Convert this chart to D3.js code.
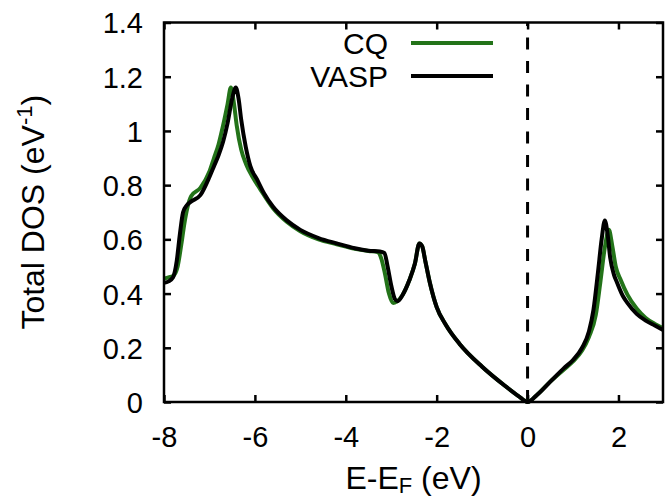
<!DOCTYPE html>
<html>
<head>
<meta charset="utf-8">
<script src="https://cdn.jsdelivr.net/npm/d3@7"></script>
<style>
    body { margin: 0; background: #fff; }
    text { font-family: "Liberation Sans", Arial, sans-serif; fill: #000; }
</style>
</head>
<body>
<svg id="chart"></svg>
<script>
// 能量轴 (E-E_F, eV) 与两条曲线的数据
const cqE = [-8.0, -7.9, -7.8, -7.7, -7.62, -7.55, -7.48, -7.4, -7.2, -7.0, -6.9, -6.8, -6.7, -6.6, -6.53, -6.46, -6.4, -6.3, -6.2, -6.05, -5.9, -5.6, -5.3, -5.0, -4.6, -4.2, -3.8, -3.5, -3.3, -3.22, -3.14, -3.05, -2.96, -2.88, -2.75, -2.6, -2.48, -2.38, -2.32, -2.25, -2.15, -2.0, -1.8, -1.5, -1.0, -0.5, -0.2, 0.0, 0.2, 0.5, 0.8, 1.0, 1.2, 1.35, 1.5, 1.6, 1.7, 1.79, 1.86, 1.94, 2.05, 2.2, 2.4, 2.6, 2.8, 2.98];
const cqDos = [0.455, 0.46, 0.465, 0.5, 0.58, 0.66, 0.72, 0.76, 0.79, 0.85, 0.9, 0.95, 1.02, 1.1, 1.16, 1.1, 1.02, 0.93, 0.88, 0.83, 0.79, 0.715, 0.665, 0.63, 0.6, 0.582, 0.565, 0.557, 0.553, 0.53, 0.475, 0.40, 0.365, 0.37, 0.395, 0.45, 0.51, 0.585, 0.575, 0.52, 0.44, 0.35, 0.285, 0.215, 0.13, 0.06, 0.022, 0.0, 0.025, 0.075, 0.12, 0.15, 0.19, 0.24, 0.32, 0.44, 0.57, 0.635, 0.58, 0.5, 0.45, 0.395, 0.345, 0.31, 0.288, 0.272];

const vaspE = [-8.0, -7.9, -7.8, -7.72, -7.65, -7.58, -7.5, -7.4, -7.2, -7.0, -6.9, -6.8, -6.7, -6.6, -6.5, -6.42, -6.36, -6.3, -6.2, -6.1, -5.95, -5.8, -5.6, -5.3, -5.0, -4.6, -4.2, -3.8, -3.5, -3.25, -3.15, -3.08, -3.0, -2.92, -2.86, -2.75, -2.6, -2.48, -2.38, -2.32, -2.25, -2.15, -2.0, -1.8, -1.5, -1.0, -0.5, -0.2, 0.0, 0.2, 0.5, 0.8, 1.0, 1.2, 1.35, 1.45, 1.55, 1.63, 1.7, 1.76, 1.82, 1.9, 1.97, 2.1, 2.2, 2.4, 2.6, 2.8, 2.98];
const vaspDos = [0.44, 0.445, 0.46, 0.52, 0.62, 0.70, 0.725, 0.74, 0.763, 0.83, 0.87, 0.91, 0.96, 1.03, 1.12, 1.16, 1.12, 1.04, 0.94, 0.87, 0.82, 0.77, 0.72, 0.67, 0.635, 0.605, 0.585, 0.567, 0.558, 0.555, 0.55, 0.50, 0.43, 0.38, 0.372, 0.395, 0.45, 0.51, 0.585, 0.575, 0.52, 0.44, 0.35, 0.285, 0.215, 0.13, 0.06, 0.022, 0.0, 0.025, 0.075, 0.125, 0.155, 0.20, 0.26, 0.34, 0.48, 0.6, 0.67, 0.62, 0.53, 0.47, 0.44, 0.39, 0.365, 0.325, 0.30, 0.282, 0.266];

// 刻度
const xTicks = [-8, -6, -4, -2, 0, 2];
const yTicks = [0, 0.2, 0.4, 0.6, 0.8, 1, 1.2, 1.4];

// 图例
const seriesNames = ["CQ", "VASP"];
const seriesColors = ["#237319", "#000000"];

const width = 665, height = 498;
const margin = { top: 22.5, right: 2, bottom: 96, left: 164 };

let svg = d3.select("#chart")
    .attr("width", width)
    .attr("height", height);

let x = d3.scaleLinear().domain([-8, 2.98]).range([margin.left, width - margin.right]);
let y = d3.scaleLinear().domain([0, 1.4]).range([height - margin.bottom, margin.top]);

// 坐标轴 (刻度朝内, 标签用普通连字符作负号)
let xAxis = svg.append("g")
    .attr("transform", `translate(0, ${y(0)})`)
    .call(d3.axisBottom(x).tickValues(xTicks).tickSize(-7).tickPadding(24).tickFormat(d => String(d)));
let xAxisTop = svg.append("g")
    .attr("transform", `translate(0, ${y(1.4)})`)
    .call(d3.axisTop(x).tickValues(xTicks).tickSize(-7).tickFormat(""));
let yAxis = svg.append("g")
    .attr("transform", `translate(${x(-8)}, 0)`)
    .call(d3.axisLeft(y).tickValues(yTicks).tickSize(-7).tickPadding(21).tickFormat(d => String(d)));
let yAxisRight = svg.append("g")
    .attr("transform", `translate(${x(2.98)}, 0)`)
    .call(d3.axisRight(y).tickValues(yTicks).tickSize(-7).tickFormat(""));

svg.selectAll(".domain").remove();
svg.selectAll(".tick line").attr("stroke", "#000").attr("stroke-width", 2.5);
svg.selectAll(".tick text").style("font-size", "29px").attr("fill", "#000");
yAxis.selectAll(".tick text").attr("dy", "0.36em");

// E_F 处的虚线
svg.append("line")
    .attr("x1", x(0)).attr("x2", x(0))
    .attr("y1", y(0)).attr("y2", y(1.4))
    .attr("stroke", "#000")
    .attr("stroke-width", 3)
    .attr("stroke-dasharray", "12,11.5");

// 曲线
let line = d3.line()
    .x(d => x(d[0]))
    .y(d => y(d[1]))
    .curve(d3.curveMonotoneX);

let series = [d3.zip(cqE, cqDos), d3.zip(vaspE, vaspDos)];
series.forEach((s, i) => {
    svg.append("path")
        .datum(s)
        .attr("fill", "none")
        .attr("stroke", seriesColors[i])
        .attr("stroke-width", 4)
        .attr("stroke-linejoin", "round")
        .attr("d", line);
});

// 边框
svg.append("rect")
    .attr("x", x(-8)).attr("y", y(1.4))
    .attr("width", x(2.98) - x(-8))
    .attr("height", y(0) - y(1.4))
    .attr("fill", "none")
    .attr("stroke", "#000")
    .attr("stroke-width", 2.5);

// 图例
let legend = svg.append("g");
seriesNames.forEach((name, i) => {
    let ly = 43 + i * 33;
    legend.append("text")
        .attr("x", 388).attr("y", ly)
        .attr("dy", "0.36em")
        .attr("text-anchor", "end")
        .style("font-size", "30px")
        .text(name);
    legend.append("line")
        .attr("x1", 411).attr("x2", 493)
        .attr("y1", ly).attr("y2", ly)
        .attr("stroke", seriesColors[i])
        .attr("stroke-width", 4);
});

// 坐标轴标题
let xLabel = svg.append("text")
    .attr("x", (x(-8) + x(2.98)) / 2)
    .attr("y", 489)
    .attr("text-anchor", "middle")
    .style("font-size", "32px");
xLabel.append("tspan").text("E-E");
xLabel.append("tspan").attr("baseline-shift", "-4").style("font-size", "22px").text("F");
xLabel.append("tspan").text(" (eV)");

let yLabel = svg.append("text")
    .attr("transform", `translate(44, ${(y(0) + y(1.4)) / 2}) rotate(-90)`)
    .attr("text-anchor", "middle")
    .style("font-size", "32px");
yLabel.append("tspan").text("Total DOS (eV");
yLabel.append("tspan").attr("baseline-shift", "super").style("font-size", "22px").text("-1");
yLabel.append("tspan").text(")");
</script>
</body>
</html>
